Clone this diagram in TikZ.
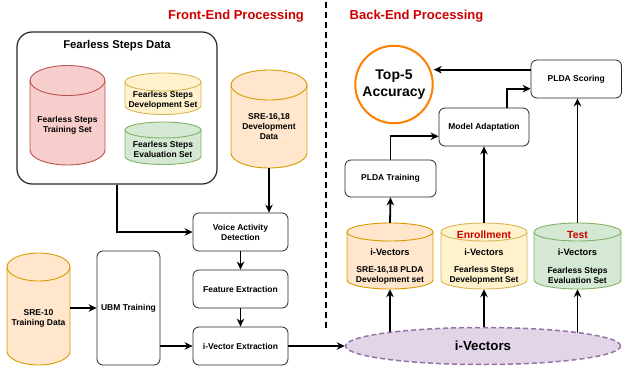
\documentclass[tikz,border=0pt]{standalone}
\usepackage{fontspec}
\setmainfont{Liberation Sans}
\usetikzlibrary{arrows.meta,calc,backgrounds,shapes.geometric}
\definecolor{pinkF}{HTML}{F8CECC}\definecolor{pinkD}{HTML}{B85450}
\definecolor{yelF}{HTML}{FFF2CC}\definecolor{yelD}{HTML}{D6B656}
\definecolor{grnF}{HTML}{D5E8D4}\definecolor{grnD}{HTML}{82B366}
\definecolor{orF}{HTML}{FFE6CC}\definecolor{orD}{HTML}{D79B00}
\definecolor{purF}{HTML}{E1D5E7}\definecolor{purD}{HTML}{9673A6}
\definecolor{redT}{HTML}{CC0000}
\definecolor{orC}{HTML}{FF8000}
\newcommand\drum[8]{%
  \pgfmathsetmacro\dcx{(#2+#4)/2}%
  \pgfmathsetmacro\dcy{(#3+#5)/2}%
  \pgfmathsetmacro\drx{(#4-#2)/2}%
  \filldraw[fill=#7,draw=#8,line width=0.9pt] (#2,#3+#6) -- (#2,#5-#6)
    arc[start angle=180,end angle=0,x radius=\drx,y radius=#6] -- (#4,#3+#6)
    arc[start angle=0,end angle=-180,x radius=\drx,y radius=#6] -- cycle;
  \draw[draw=#8,line width=0.9pt] (#2,#3+#6) arc[start angle=180,end angle=0,x radius=\drx,y radius=#6];
  \node[inner sep=0pt,minimum width=#4-#2,minimum height=#5-#3] (#1) at (\dcx,\dcy) {};
}
\begin{document}
\begin{tikzpicture}[x=1pt,y=-1pt,
  box/.style={draw=black!85,line width=0.8pt,rounded corners=6pt,fill=white,align=center,
    font=\fontsize{8.5}{10}\selectfont\bfseries,inner sep=0pt},
  lbl/.style={align=center,font=\fontsize{8.5}{10}\selectfont\bfseries,inner sep=0pt},
  mlbl/.style={align=center,font=\fontsize{9.3}{11}\selectfont\bfseries,inner sep=0pt},
  rlbl/.style={align=center,font=\fontsize{10.4}{12}\selectfont\bfseries,text=redT,inner sep=0pt},
  title/.style={font=\fontsize{13}{15}\selectfont\bfseries,text=redT,inner sep=0pt},
  arr/.style={line width=1.8pt,-{Stealth[length=8pt,width=7.5pt]}},
  divider/.style={line width=1.8pt,dash pattern=on 6pt off 4pt}]
\useasboundingbox (0,0) rectangle (622,367);

% titles and divider
\node[title] (fet) at (236,16) {Front-End Processing};
\node[title] (bet) at (416.5,16) {Back-End Processing};
\coordinate (dtop) at (326,2);
\coordinate (dbot) at (326,328);
\draw[divider] (dtop) -- (dbot);

% Fearless Steps Data container
\node[draw=black!85,line width=1.2pt,rounded corners=15pt,minimum width=200pt,minimum height=152pt,inner sep=0pt] (fsd) at (117,108) {};
\node[font=\fontsize{11.3}{13}\selectfont\bfseries,inner sep=0pt] (fsdt) at (117,46) {Fearless Steps Data};

\drum{trn}{30}{65.5}{105}{165}{15}{pinkF}{pinkD}
\node[lbl] (trnl) at (67.5,125) {Fearless Steps\\Training Set};
\drum{dev}{125}{73}{201}{114.5}{9}{yelF}{yelD}
\node[lbl] (devl) at (163,100) {Fearless Steps\\Development Set};
\drum{evl}{125}{122}{201}{164.5}{8}{grnF}{grnD}
\node[lbl] (evll) at (163,149.5) {Fearless Steps\\Evaluation Set};

\drum{s1618}{231}{70}{307}{168}{15}{orF}{orD}
\node[lbl] (s1618l) at (269,127) {SRE-16,18\\Development\\Data};
\drum{s10}{7}{253}{70}{365}{14}{orF}{orD}
\node[lbl] (s10l) at (38.5,318) {SRE-10\\Training Data};

% front-end boxes
\node[box,minimum width=95pt,minimum height=38pt] (vad) at (240.5,232) {Voice Activity\\Detection};
\node[box,minimum width=95pt,minimum height=38pt] (fe) at (240.5,289) {Feature Extraction};
\node[box,minimum width=95pt,minimum height=38pt] (ive) at (240.5,346) {i-Vector Extraction};
\node[box,minimum width=63pt,minimum height=114pt] (ubm) at (128.5,308) {UBM Training};

% back-end
\node[circle,draw=orC,line width=2pt,minimum size=77.5pt,inner sep=0pt,align=center,
  font=\fontsize{14}{17}\selectfont\bfseries] (top5) at (394,84.5) {Top-5\\Accuracy};
\node[box,minimum width=90.5pt,minimum height=38pt] (ps) at (576.25,79) {PLDA Scoring};
\node[box,minimum width=90pt,minimum height=38pt] (ma) at (484,127) {Model Adaptation};
\node[box,minimum width=91pt,minimum height=37pt] (pldat) at (390.5,178.5) {PLDA Training};

\drum{cA}{347}{223}{433}{289}{9}{orF}{orD}
\drum{cB}{441}{223}{527}{289}{9}{yelF}{yelD}
\drum{cC}{534}{223}{621}{289}{9}{grnF}{grnD}
\node[rlbl] (cBe) at (484,235) {Enrollment};
\node[rlbl] (cCe) at (577.5,235) {Test};
\node[mlbl] (cAi) at (390,252) {i-Vectors};
\node[mlbl] (cBi) at (484,252) {i-Vectors};
\node[mlbl] (cCi) at (577.5,252) {i-Vectors};
\node[lbl] (cAt) at (390,275) {SRE-16,18 PLDA\\Development set};
\node[lbl] (cBt) at (484,275) {Fearless Steps\\Development Set};
\node[lbl] (cCt) at (577.5,275) {Fearless Steps\\Evaluation Set};

\node[ellipse,draw=purD,fill=purF,line width=1.5pt,dash pattern=on 5pt off 3pt,
  minimum width=275pt,minimum height=37pt,inner sep=0pt,
  font=\fontsize{13.3}{15}\selectfont\bfseries] (iv) at (483,346) {i-Vectors};

% connectors
\draw[arr] (fsd.south) |- (vad.west);
\draw[arr] (s1618.south) -- (s1618.south |- vad.north);
\draw[arr] (vad.south) -- (fe.north);
\draw[arr] (fe.south) -- (ive.north);
\draw[arr] (s10.east |- ubm.west) -- (ubm.west);
\draw[arr] (ubm.east |- ive.west) -- (ive.west);
\draw[arr] (ive.east) -- (iv.west);
\begin{scope}[on background layer]
\draw[arr] (cA.south |- iv.center) -- (cA.south);
\draw[arr] (cB.south |- iv.center) -- (cB.south);
\draw[arr] (cC.south |- iv.center) -- (cC.south);
\end{scope}
\draw[arr] (cA.north) -- (pldat.south);
\coordinate (maw) at ($(ma.north west)!0.74!(ma.south west)$);
\draw[arr] (pldat.north) |- (maw);
\draw[arr] (cB.north) -- (ma.south);
\coordinate (man) at ($(ma.north west)!0.75!(ma.north east)$);
\coordinate (psw2) at ($(ps.north west)!0.75!(ps.south west)$);
\draw[arr] (man) |- (psw2);
\draw[arr] (cC.north) -- (cC.north |- ps.south);
\coordinate (psw) at ($(ps.north west)!0.26!(ps.south west)$);
\draw[arr] (psw) -- (psw -| top5.east);
\end{tikzpicture}
\end{document}
